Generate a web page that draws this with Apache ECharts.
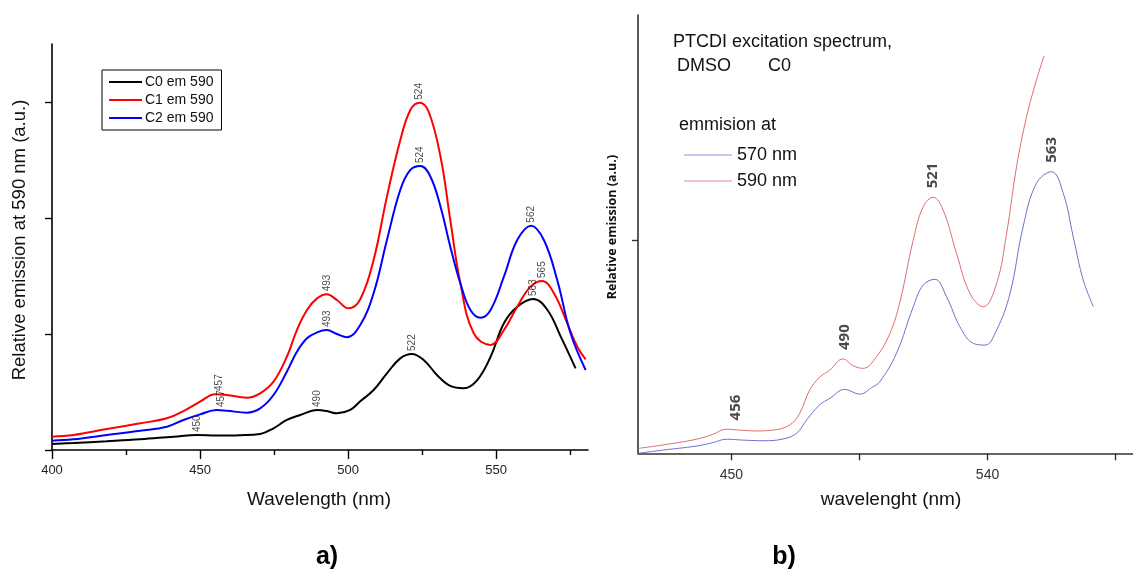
<!DOCTYPE html>
<html><head><meta charset="utf-8">
<script src="https://cdn.jsdelivr.net/npm/echarts@6/dist/echarts.min.js"></script>
<style>html,body{margin:0;padding:0;background:#fff}#c{width:1133px;height:575px}</style>
</head><body><div id="c"></div>
<script>
// ---------- Panel a) data: [wavelength nm, relative emission] ----------
const seriesNamesA = ['C0 em 590', 'C1 em 590', 'C2 em 590'];
const c0Em590 = [[400,5.2],[407.2,6],[418.5,7.5],[429.8,9.2],[441.1,11.5],[449,12.9],[455.6,12.4],[463.5,12.7],[470.3,13.8],[474.8,18.7],[479.3,25.9],[483.8,30.2],[489.5,34.5],[492.8,33.6],[496.2,31.6],[500.7,34.5],[504.1,42],[508.6,51.7],[513.1,66.1],[517.6,79],[521.5,82.8],[525.5,77.6],[530,64.7],[534.5,55.2],[539,53.2],[543.6,60.3],[548.1,80.4],[552.6,109.2],[557.1,123.5],[562.5,130.2],[567.3,120.7],[571.8,97.7],[576.8,70.4]];
const c1Em590 = [[400,11.5],[407.2,12.9],[418.5,18.1],[429.8,23],[438.8,27.3],[444.4,33.6],[450,41.7],[455.1,48],[459,47.4],[465.8,45.1],[470.3,48.9],[474.8,58.9],[479.3,80.4],[482.7,103.4],[486.1,120.7],[489.5,130.7],[492.8,134.2],[496.2,129.3],[500.1,122.1],[504.1,130],[508.6,163.8],[513.1,218.4],[517.6,267],[521,293.1],[524.1,299.4],[527.2,291.6],[531.2,252.8],[534.5,198.3],[537.9,143.7],[542.4,100.6],[548.1,90.5],[552.6,103.4],[557.1,123.5],[561.6,140.8],[565.5,145.7],[569.5,135.1],[574,109.2],[577.4,89],[580.2,78.2]];
const c2Em590 = [[400,8],[407.2,9.2],[418.5,12.9],[429.8,16.6],[438.8,20.1],[444.4,25.9],[450,30.7],[455.6,34.5],[459,33.9],[465.8,32.2],[470.3,35.9],[474.8,47.4],[479.3,67.5],[482.7,84.7],[486.1,96.3],[489.5,101.4],[492.8,103.4],[496.2,100],[499.6,97.2],[504.1,107.8],[508.6,135.1],[513.1,181],[517.6,224.1],[521,241.4],[524.4,244.8],[527.8,235.6],[531.2,209.7],[534.5,175.3],[537.9,143.7],[541.3,120.7],[544.7,114.1],[548.1,120.7],[552.6,149.4],[557.1,181],[561.8,193.4],[566.1,181],[570.6,146.6],[575.1,100.6],[580.2,69]];
// peak annotations: [nm, value, text]
const peaksA = [[449,12.9,'450'],[489.5,34.5,'490'],[521.5,82.8,'522'],[562.5,130.2,'563'],
                [456.5,48.3,'457'],[492.8,134.2,'493'],[524.1,299.4,'524'],[565.5,145.7,'565'],
                [457,34.5,'457'],[492.8,103.4,'493'],[524.4,244.8,'524'],[561.8,193.4,'562']];
const xMajorTicksA = [400, 450, 500, 550];
const xMinorTicksA = [425, 475, 525, 575];
const yTicksA = [0, 100, 200, 300];

// ---------- Panel b) data ----------
const seriesNamesB = ['570 nm', '590 nm'];
const em570 = [[417.2,0],[425.9,1.5],[437.7,3.4],[443.5,5],[448.2,6.6],[454.1,6.2],[461.1,5.9],[468.1,6.7],[472.9,9.4],[476.4,15.6],[481,22.7],[484.6,25.8],[489.8,30],[495.1,27.8],[499.8,31.3],[502.1,33.5],[508,46.9],[513.9,68.8],[517.4,79],[521.5,81.7],[525.6,73.5],[530.3,59.4],[535,51.6],[539.1,50.8],[543.2,57.9],[547.9,75.1],[552.5,106.4],[557.2,126.8],[562.5,132.2],[566.6,122.1],[570.1,101.7],[573.6,81.4],[577.2,68.8]];
const em590 = [[417.2,2.3],[425.9,3.9],[437.7,6.6],[443.5,8.9],[448.2,11.3],[452.9,10.9],[458.8,10.5],[464.6,10.9],[470.5,13.3],[474,18.8],[477.5,29.7],[481,35.7],[484.6,39.1],[489.2,44.3],[492.8,41.1],[496.3,39.9],[501,45.4],[505.7,56.3],[509.2,71],[513.9,100.1],[517.4,115.8],[520.9,120.2],[524.4,114.2],[529.1,93.9],[533.8,75.1],[538.5,68.8],[543.2,79.8],[546.7,103.3],[550.2,134.6],[553.7,158],[557.2,175.3],[559.8,186.5]];
const peaksB = [[451.5,11.2,'456'],[490,44.3,'490'],[520.9,120.2,'521'],[562.6,132.2,'563']];
const xTickValuesB = [450, 495, 540, 585];
const xLabelValuesB = [450, 540];
const yTicksB = [100];

const chart = echarts.init(document.getElementById('c'), null, {renderer: 'canvas'});
const FONT = '"Liberation Sans", Arial, sans-serif';
const BOLDFONT = '"Open Sans", "Noto Sans", sans-serif';

function peakLabelSeries(data, xi, yi, fs, fw, ff, dist) {
  return {
    type: 'scatter', xAxisIndex: xi, yAxisIndex: yi, data: data,
    symbolSize: 0, silent: true, z: 5,
    label: {
      show: true, position: 'top', distance: dist, rotate: 90,
      align: 'left', verticalAlign: 'middle',
      formatter: p => p.data[2],
      fontSize: fs, fontWeight: fw, fontFamily: ff, color: '#1a1a1a'
    }
  };
}

const option = {
  animation: false,
  backgroundColor: '#fff',
  grid: [
    {left: 52, top: 44, width: 536, height: 406},
    {left: 638, top: 15, right: 0, height: 438.3}
  ],
  xAxis: [
    {gridIndex: 0, type: 'value', min: 400, max: 581,
     axisLine: {lineStyle: {color: '#000', width: 1.6}},
     axisTick: {length: 9, customValues: xMajorTicksA, lineStyle: {color: '#000', width: 1.4}},
     axisLabel: {fontSize: 13, color: '#222', fontFamily: FONT, margin: 14, customValues: xMajorTicksA},
     splitLine: {show: false}},
    {gridIndex: 1, type: 'value', min: 417.2, max: 591.1,
     axisLine: {lineStyle: {color: '#333', width: 1.6}},
     axisTick: {length: 7, customValues: xTickValuesB, lineStyle: {color: '#333', width: 1.4}},
     axisLabel: {fontSize: 14, color: '#333', fontFamily: FONT, margin: 15, customValues: xLabelValuesB},
     splitLine: {show: false}},
    {gridIndex: 0, type: 'value', min: 400, max: 581, position: 'bottom',
     axisLine: {show: false},
     axisTick: {show: true, length: 5, customValues: xMinorTicksA, lineStyle: {color: '#000', width: 1.4}},
     axisLabel: {show: false}, splitLine: {show: false}}
  ],
  yAxis: [
    {gridIndex: 0, type: 'value', min: 0, max: 350,
     axisLine: {show: true, lineStyle: {color: '#000', width: 1.6}},
     axisTick: {show: true, length: 7, customValues: yTicksA, lineStyle: {color: '#000', width: 1.4}},
     axisLabel: {show: false}, splitLine: {show: false}},
    {gridIndex: 1, type: 'value', min: 0, max: 205.8,
     axisLine: {show: true, lineStyle: {color: '#333', width: 1.6}},
     axisTick: {show: true, length: 6, customValues: yTicksB, lineStyle: {color: '#333', width: 1.4}},
     axisLabel: {show: false}, splitLine: {show: false}}
  ],
  legend: [
    {data: seriesNamesA, orient: 'vertical', left: 102, top: 70,
     borderColor: '#000', borderWidth: 1, borderRadius: 0, padding: [5, 8, 5, 7],
     itemWidth: 33, itemHeight: 2, itemGap: 4, icon: 'rect',
     textStyle: {fontSize: 14, color: '#111', fontFamily: FONT, padding: [0, 0, 0, -2]}},
    {data: seriesNamesB, orient: 'vertical', left: 679, top: 141,
     itemWidth: 48, itemHeight: 1, itemGap: 8, icon: 'rect',
     textStyle: {fontSize: 18, color: '#111', fontFamily: FONT}}
  ],
  series: [
    {name: seriesNamesA[0], type: 'line', xAxisIndex: 0, yAxisIndex: 0, data: c0Em590,
     smooth: 0.4, showSymbol: false, lineStyle: {color: '#000', width: 2}, itemStyle: {color: '#000'}},
    {name: seriesNamesA[1], type: 'line', xAxisIndex: 0, yAxisIndex: 0, data: c1Em590,
     smooth: 0.4, showSymbol: false, lineStyle: {color: '#ff0000', width: 2}, itemStyle: {color: '#ff0000'}},
    {name: seriesNamesA[2], type: 'line', xAxisIndex: 0, yAxisIndex: 0, data: c2Em590,
     smooth: 0.4, showSymbol: false, lineStyle: {color: '#0000ff', width: 2}, itemStyle: {color: '#0000ff'}},
    peakLabelSeries(peaksA, 0, 0, 10, 'normal', FONT, 3),
    {name: seriesNamesB[0], type: 'line', xAxisIndex: 1, yAxisIndex: 1, data: em570,
     smooth: 0.4, showSymbol: false, lineStyle: {color: '#6f6fcf', width: 1}, itemStyle: {color: '#8f8fe6'}},
    {name: seriesNamesB[1], type: 'line', xAxisIndex: 1, yAxisIndex: 1, data: em590,
     smooth: 0.4, showSymbol: false, lineStyle: {color: '#dc6e6e', width: 1}, itemStyle: {color: '#e88a8a'}},
    peakLabelSeries(peaksB, 1, 1, 15, 'bold', BOLDFONT, 9)
  ],
  graphic: [
    {type: 'text', x: 319, y: 500, style: {text: 'Wavelength (nm)', font: '19px ' + FONT, fill: '#111', align: 'center', verticalAlign: 'middle'}},
    {type: 'text', x: 20, y: 240, rotation: Math.PI / 2, style: {text: 'Relative emission at 590 nm (a.u.)', font: '18.5px ' + FONT, fill: '#111', align: 'center', verticalAlign: 'middle'}},
    {type: 'text', x: 327, y: 557, style: {text: 'a)', font: 'bold 25px ' + FONT, fill: '#000', align: 'center', verticalAlign: 'middle'}},
    {type: 'text', x: 784, y: 557, style: {text: 'b)', font: 'bold 25px ' + FONT, fill: '#000', align: 'center', verticalAlign: 'middle'}},
    {type: 'text', x: 891, y: 500, style: {text: 'wavelenght (nm)', font: '19px ' + FONT, fill: '#111', align: 'center', verticalAlign: 'middle'}},
    {type: 'text', x: 612, y: 227, rotation: Math.PI / 2, style: {text: 'Relative emission (a.u.)', font: 'bold 12.5px ' + BOLDFONT, fill: '#111', align: 'center', verticalAlign: 'middle'}},
    {type: 'text', x: 673, y: 42, style: {text: 'PTCDI excitation spectrum,', font: '18px ' + FONT, fill: '#111', align: 'left', verticalAlign: 'middle'}},
    {type: 'text', x: 677, y: 66, style: {text: 'DMSO', font: '18px ' + FONT, fill: '#111', align: 'left', verticalAlign: 'middle'}},
    {type: 'text', x: 768, y: 66, style: {text: 'C0', font: '18px ' + FONT, fill: '#111', align: 'left', verticalAlign: 'middle'}},
    {type: 'text', x: 679, y: 125, style: {text: 'emmision at', font: '18px ' + FONT, fill: '#111', align: 'left', verticalAlign: 'middle'}}
  ]
};
chart.setOption(option);
</script>
</body></html>
